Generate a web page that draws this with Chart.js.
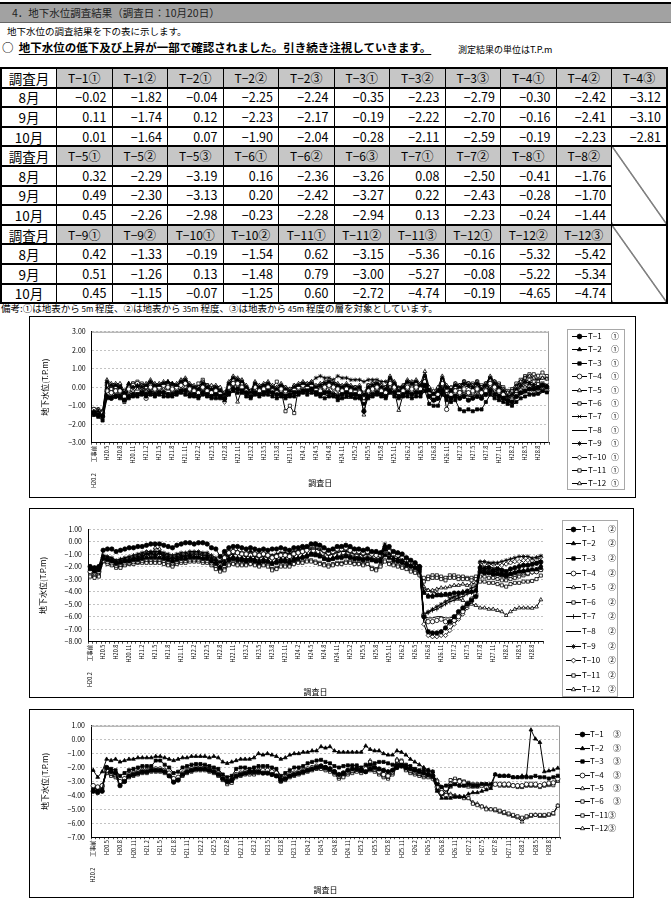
<!DOCTYPE html>
<html lang="ja">
<head>
<meta charset="UTF-8">
<title>地下水位調査結果</title>
<script src="https://cdn.jsdelivr.net/npm/chart.js@4.4.0/dist/chart.umd.min.js"></script>
<style>
    * { margin: 0; padding: 0; box-sizing: border-box; }
    body { width: 671px; height: 905px; overflow: hidden; background: #fff; color: #000;
        font-family: "Noto Sans CJK JP", sans-serif; position: relative; }
    #bar { position: absolute; left: 0; top: 2px; width: 671px; height: 21px; background: #a2a2a2;
        border-top: 2px solid #000; border-bottom: 1px solid #666; font-size: 10.5px; line-height: 18px;
        padding-left: 12px; color: #222; }
    #lead { position: absolute; left: 7px; top: 24px; font-size: 9.5px; }
    #note { position: absolute; left: 2px; top: 39px; font-size: 11.5px; font-weight: bold; }
    #note u { text-underline-offset: 2px; }
    #unit { position: absolute; left: 458px; top: 43px; font-size: 9px; }
    #tbl { position: absolute; left: 0; top: 67px; width: 668px; border-collapse: collapse; table-layout: fixed;
        border: 2px solid #000; }
    #tbl td { border-top: 2px solid #000; border-bottom: 2px solid #000; border-left: 1px solid #000;
        border-right: 1px solid #000; height: 19.6px; font-size: 12.5px; text-align: right; padding: 0 5px 0 0;
        line-height: 14px; }
    #tbl td.m { text-align: center; padding: 0; font-size: 13.5px; }
    #tbl td.h { text-align: center; padding: 0; background: #c6c6c6; font-size: 12px; }
    #tbl td.x { background: linear-gradient(to top right, transparent calc(50% - 0.8px), #000 50%, transparent calc(50% + 0.8px)); }
    #remark { position: absolute; left: 1px; top: 301px; font-size: 9.5px; }
    #remark small { font-size: 8px; }
    .box { position: absolute; border: 1px solid #000; background: #fff; }
    .box canvas { position: absolute; left: 0; top: 0; }
    .legend { position: absolute; font-size: 8px; }
    .legend.framed { border: 1px solid #a8a8a8; }
    .item { position: absolute; left: 0; height: 10px; line-height: 10px; white-space: nowrap; }
    .item canvas { position: absolute; top: 1px; }
    .item span { position: absolute; top: 0; }
</style>
</head>
<body>
<div id="bar">4．地下水位調査結果（調査日：10月20日）</div>
<div id="lead">地下水位の調査結果を下の表に示します。</div>
<div id="note">○&nbsp;&nbsp;<u>地下水位の低下及び上昇が一部で確認されました。引き続き注視していきます。</u></div>
<div id="unit">測定結果の単位はT.P.m</div>
<table id="tbl"></table>
<div id="remark">備考:①は地表から<small> 5m </small>程度、②は地表から<small> 35m </small>程度、③は地表から<small> 45m </small>程度の層を対象としています。</div>

<div class="box" id="box1" style="left:29px;top:316px;width:607px;height:182px">
    <canvas id="c1" width="605" height="180"></canvas>
    <div class="legend framed" id="lg1" style="left:537px;top:12px;width:58px;height:161px"></div>
</div>
<div class="box" id="box2" style="left:29px;top:508px;width:605px;height:190px">
    <canvas id="c2" width="603" height="188"></canvas>
    <div class="legend framed" id="lg2" style="left:532px;top:11px;width:56px;height:177px"></div>
</div>
<div class="box" id="box3" style="left:29px;top:709px;width:605px;height:189px">
    <canvas id="c3" width="603" height="187"></canvas>
    <div class="legend" id="lg3" style="left:543px;top:18px;width:58px;height:112px"></div>
</div>

<script>
    // 調査月 (H20.2 工事前 ～ H28.10)
    const months = ['H20.2　　工事前', 'H20.3', 'H20.4', 'H20.5', 'H20.6', 'H20.7', 'H20.8', 'H20.9', 'H20.10', 'H20.11', 'H20.12',
        'H21.1', 'H21.2', 'H21.3', 'H21.4', 'H21.5', 'H21.6', 'H21.7', 'H21.8', 'H21.9', 'H21.10', 'H21.11', 'H21.12',
        'H22.1', 'H22.2', 'H22.3', 'H22.4', 'H22.5', 'H22.6', 'H22.7', 'H22.8', 'H22.9', 'H22.10', 'H22.11', 'H22.12',
        'H23.1', 'H23.2', 'H23.3', 'H23.4', 'H23.5', 'H23.6', 'H23.7', 'H23.8', 'H23.9', 'H23.10', 'H23.11', 'H23.12',
        'H24.1', 'H24.2', 'H24.3', 'H24.4', 'H24.5', 'H24.6', 'H24.7', 'H24.8', 'H24.9', 'H24.10', 'H24.11', 'H24.12',
        'H25.1', 'H25.2', 'H25.3', 'H25.4', 'H25.5', 'H25.6', 'H25.7', 'H25.8', 'H25.9', 'H25.10', 'H25.11', 'H25.12',
        'H26.1', 'H26.2', 'H26.3', 'H26.4', 'H26.5', 'H26.6', 'H26.7', 'H26.8', 'H26.9', 'H26.10', 'H26.11', 'H26.12',
        'H27.1', 'H27.2', 'H27.3', 'H27.4', 'H27.5', 'H27.6', 'H27.7', 'H27.8', 'H27.9', 'H27.10', 'H27.11', 'H27.12',
        'H28.1', 'H28.2', 'H28.3', 'H28.4', 'H28.5', 'H28.6', 'H28.7', 'H28.8', 'H28.9', 'H28.10']

    // 表
    const head1 = ['T−1①', 'T−1②', 'T−2①', 'T−2②', 'T−2③', 'T−3①', 'T−3②', 'T−3③', 'T−4①', 'T−4②', 'T−4③']
    const aug1 = [-0.02, -1.82, -0.04, -2.25, -2.24, -0.35, -2.23, -2.79, -0.30, -2.42, -3.12]
    const sep1 = [0.11, -1.74, 0.12, -2.23, -2.17, -0.19, -2.22, -2.70, -0.16, -2.41, -3.10]
    const oct1 = [0.01, -1.64, 0.07, -1.90, -2.04, -0.28, -2.11, -2.59, -0.19, -2.23, -2.81]
    const head2 = ['T−5①', 'T−5②', 'T−5③', 'T−6①', 'T−6②', 'T−6③', 'T−7①', 'T−7②', 'T−8①', 'T−8②']
    const aug2 = [0.32, -2.29, -3.19, 0.16, -2.36, -3.26, 0.08, -2.50, -0.41, -1.76]
    const sep2 = [0.49, -2.30, -3.13, 0.20, -2.42, -3.27, 0.22, -2.43, -0.28, -1.70]
    const oct2 = [0.45, -2.26, -2.98, -0.23, -2.28, -2.94, 0.13, -2.23, -0.24, -1.44]
    const head3 = ['T−9①', 'T−9②', 'T−10①', 'T−10②', 'T−11①', 'T−11②', 'T−11③', 'T−12①', 'T−12②', 'T−12③']
    const aug3 = [0.42, -1.33, -0.19, -1.54, 0.62, -3.15, -5.36, -0.16, -5.32, -5.42]
    const sep3 = [0.51, -1.26, 0.13, -1.48, 0.79, -3.00, -5.27, -0.08, -5.22, -5.34]
    const oct3 = [0.45, -1.15, -0.07, -1.25, 0.60, -2.72, -4.74, -0.19, -4.65, -4.74]

    // グラフ1 (①)
    const a1_T1 = [-1.4, -1.5, -1.6, -0.5, -0.6, -0.5, -0.5, -0.7, -0.5, -0.4, -0.4, -0.3, -0.4, -0.3, -0.4,
        -0.3, -0.3, -0.4, -0.4, -0.3, -0.2, -0.2, -0.4, -0.4, -0.5, -0.3, -0.4, -0.5, -0.4, -0.5,
        -0.6, -0.3, -0.1, -0.1, -0.2, -0.3, -0.5, -0.3, -0.4, -0.3, -0.2, -0.3, -0.4, -0.4, -0.5,
        -0.4, -0.3, -0.3, -0.2, -0.2, -0.1, -0.3, -0.4, -0.3, -0.3, -0.4, -0.5, -0.4, -0.3, -0.4,
        -0.4, -0.5, -1.3, -0.5, -0.4, -0.3, -0.4, -0.5, -0.2, -0.3, -0.5, -0.4, -0.3, -0.4, -0.3,
        -0.3, 0.1, -0.5, -0.7, -0.6, -0.2, -0.5, -0.6, -0.5, -0.6, -0.5, -0.7, -0.6, -0.5, -0.6,
        -0.4, -0.2, -0.4, -0.5, -0.6, -0.7, -0.8, -0.5, -0.3, -0.2, -0.1, -0.1, -0.02, 0.11, 0.01]
    const a1_T2 = [-1.3, -1.3, -1.5, 0.3, 0.1, 0.1, 0.0, -0.3, 0.2, 0.0, 0.1, 0.0, 0.1, 0.3, 0.1,
        0.1, 0.2, 0.3, 0.2, 0.1, 0.3, 0.4, 0.1, 0.0, -0.1, 0.2, 0.0, -0.1, 0.0, -0.2,
        -0.4, 0.2, 0.5, 0.4, 0.3, 0.0, -0.3, 0.2, 0.0, 0.1, 0.2, 0.0, -0.1, 0.1, -0.1,
        -0.2, 0.0, 0.1, 0.2, 0.1, 0.2, 0.0, 0.1, 0.2, 0.3, 0.2, 0.1, 0.0, 0.1, 0.0,
        -0.1, 0.0, -0.4, 0.0, 0.1, 0.2, 0.0, -0.1, 0.5, 0.2, -0.2, 0.0, 0.3, 0.2, 0.3,
        0.1, 0.6, -0.2, -0.4, -0.2, 0.5, 0.0, -0.2, 0.1, 0.0, 0.2, 0.1, 0.0, 0.2, -0.1,
        0.1, 0.5, 0.2, 0.0, -0.2, -0.5, -0.4, -0.1, 0.1, 0.3, 0.2, 0.1, -0.04, 0.12, 0.07]
    const a1_T3 = [-1.5, -1.6, -1.8, -0.6, -0.6, -0.5, -0.6, -0.7, -0.6, -0.5, -0.5, -0.4, -0.5, -0.4, -0.5,
        -0.4, -0.5, -0.5, -0.5, -0.4, -0.3, -0.4, -0.5, -0.5, -0.6, -0.4, -0.5, -0.6, -0.6, -0.6,
        -0.7, -0.4, -0.2, -0.3, -0.3, -0.5, -0.6, -0.4, -0.5, -0.4, -0.4, -0.5, -0.6, -0.5, -0.6,
        -0.5, -0.5, -0.4, -0.3, -0.4, -0.3, -0.4, -0.5, -0.6, -0.5, -0.5, -0.7, -0.6, -0.5, -0.5,
        -0.6, -0.6, -0.9, -0.6, -0.5, -0.4, -0.5, -0.6, -0.3, -0.5, -0.6, -0.5, -0.5, -0.6, -0.5,
        -0.5, -0.2, -0.9, -1.0, -1.0, -0.4, -0.7, -0.8, -0.7, -1.2, -1.3, -1.2, -1.3, -1.2, -1.2,
        -0.8, -0.4, -0.6, -0.7, -0.8, -0.9, -1.0, -0.8, -0.6, -0.5, -0.4, -0.4, -0.35, -0.19, -0.28]
    const a1_T4 = [-1.2, -1.3, -1.4, -0.2, -0.3, -0.2, -0.2, -0.5, -0.1, 0.1, 0.2, 0.0, -0.6, 0.0, -0.1,
        0.0, 0.1, 0.0, -0.1, 0.0, 0.1, 0.2, -0.1, -0.2, -0.3, 0.0, -0.2, -0.3, -0.2, -0.3,
        -0.5, 0.0, 0.2, 0.2, 0.0, -0.2, -0.4, 0.0, -0.2, -0.1, 0.0, -0.2, -0.3, -0.1, -0.2,
        -0.3, -0.1, 0.0, 0.1, 0.0, 0.1, -0.1, -0.2, 0.0, 0.1, 0.0, -0.1, -0.2, -0.1, -0.2,
        -0.2, -0.3, -0.8, -0.2, -0.1, 0.0, -0.2, -0.3, 0.2, 0.0, -0.3, -0.2, 0.0, -0.1, 0.0,
        -0.1, 0.3, -0.3, -0.5, -0.4, 0.2, -1.2, -0.4, -0.2, -0.3, -0.1, -0.3, -0.2, -0.1, -0.3,
        -0.2, 0.2, 0.0, -0.2, -0.4, -0.6, -0.7, -0.4, -0.2, -0.1, 0.0, -0.2, -0.30, -0.16, -0.19]
    const a1_T5 = [-1.2, -1.2, -1.3, 0.4, 0.2, 0.2, 0.2, -0.2, 0.2, 0.1, 0.2, 0.1, 0.2, 0.4, 0.2,
        0.2, 0.3, 0.3, 0.2, 0.2, 0.4, 0.5, 0.2, 0.1, 0.0, 0.3, 0.1, 0.1, 0.1, 0.0,
        -0.3, 0.3, 0.6, 0.5, 0.4, 0.1, -0.2, 0.3, 0.1, 0.2, 0.3, 0.1, 0.0, 0.2, 0.0,
        -0.1, 0.1, 0.2, 0.3, 0.2, 0.3, 0.1, 0.2, 0.3, 0.4, 0.3, 0.2, 0.1, 0.2, 0.1,
        0.0, 0.1, -1.5, 0.1, 0.2, 0.3, 0.1, 0.0, 0.6, 0.3, -0.1, 0.1, 0.4, 0.3, 0.4,
        0.2, 0.85, 0.0, -0.2, 0.0, 0.6, 0.1, 0.0, 0.2, 0.1, 0.3, 0.2, 0.1, 0.3, 0.0,
        0.2, 0.6, 0.3, 0.1, -0.1, -0.3, -0.2, 0.0, 0.3, 0.5, 0.6, 0.5, 0.32, 0.49, 0.45]
    const a1_T6 = [-1.3, -1.4, -1.5, 0.1, -0.1, 0.0, 0.0, -0.8, 0.0, 0.2, 0.2, 0.1, 0.0, 0.1, 0.0,
        0.1, 0.2, 0.1, 0.0, 0.1, 0.2, 0.3, 0.0, -0.1, 0.2, 0.4, 0.1, 0.0, -0.1, -0.2,
        -0.6, 0.1, 0.4, 0.3, 0.2, -0.1, -0.3, 0.1, -0.1, 0.0, 0.1, -0.1, -0.2, 0.0, -0.1,
        -0.2, 0.0, 0.1, 0.2, 0.1, 0.2, 0.0, -0.1, 0.1, 0.2, 0.1, 0.0, -0.1, 0.0, -0.1,
        -0.1, -0.2, -0.6, -0.1, 0.0, 0.1, -0.1, -0.2, 0.3, 0.1, -0.2, -0.1, 0.1, 0.0, 0.2,
        0.0, 0.5, -0.3, -0.5, -0.3, 0.4, -0.2, -0.3, 0.0, -0.1, 0.3, 0.2, 0.1, 0.3, 0.0,
        0.1, 0.4, 0.1, -0.1, -0.3, -0.5, -0.4, -0.2, 0.1, 0.3, 0.4, 0.3, 0.16, 0.20, -0.23]
    const a1_T7 = [-1.3, -1.3, -1.4, 0.0, -0.2, -0.1, -0.1, -0.4, -0.1, 0.0, 0.0, -0.1, -0.1, 0.1, 0.0,
        0.0, 0.1, 0.1, 0.0, 0.0, 0.1, 0.2, -0.1, -0.2, -0.2, 0.1, -0.1, -0.2, -0.2, -0.3,
        -0.5, 0.0, 0.3, 0.2, 0.1, -0.1, -0.3, 0.1, -0.1, 0.0, 0.1, -0.1, -0.2, 0.0, -0.1,
        -0.2, 0.0, 0.0, 0.1, 0.0, 0.1, -0.1, -0.1, 0.0, 0.1, 0.1, 0.0, -0.1, 0.0, -0.1,
        -0.1, -0.2, -0.5, -0.1, 0.0, 0.1, -0.1, -0.2, 0.2, 0.0, -0.2, -0.1, 0.1, 0.0, 0.1,
        0.0, 0.4, -0.2, -0.4, -0.3, 0.3, -0.2, -0.3, 0.0, -0.1, 0.1, 0.0, -0.1, 0.1, -0.1,
        0.0, 0.3, 0.1, -0.1, -0.3, -0.5, -0.5, -0.2, 0.0, 0.2, 0.3, 0.2, 0.08, 0.22, 0.13]
    const a1_T8 = [-1.5, -1.5, -1.6, -0.5, -0.5, -0.4, -0.4, -0.6, -0.4, -0.3, -0.3, -0.3, -0.3, -0.2, -0.3,
        -0.3, -0.2, -0.3, -0.3, -0.3, -0.2, -0.1, -0.3, -0.3, -0.4, -0.2, -0.3, -0.4, -0.4, -0.4,
        -0.6, -0.3, -0.1, -0.1, -0.2, -0.3, -0.5, -0.3, -0.4, -0.3, -0.3, -0.3, -0.4, -0.4, -0.4,
        -0.4, -0.3, -0.3, -0.2, -0.3, -0.2, -0.3, -0.4, -0.4, -0.5, -0.5, -0.6, -0.6, -0.6, -0.6,
        -0.6, -0.6, -0.8, -0.5, -0.4, -0.3, -0.4, -0.5, -0.2, -0.3, -0.5, -0.4, -0.3, -0.4, -0.3,
        -0.4, 0.0, -0.6, -0.8, -0.7, -0.1, -0.5, -0.6, -0.4, -0.5, -0.4, -0.5, -0.5, -0.3, -0.5,
        -0.3, 0.0, -0.3, -0.4, -0.6, -0.8, -0.8, -0.6, -0.4, -0.3, -0.3, -0.4, -0.41, -0.28, -0.24]
    const a1_T9 = [-1.3, -1.4, -1.4, 0.1, -0.1, 0.0, 0.0, -0.3, 0.0, 0.1, 0.1, 0.0, 0.0, 0.2, 0.0,
        0.1, 0.1, 0.2, 0.1, 0.0, 0.2, 0.3, 0.0, -0.1, -0.1, 0.1, 0.0, -0.1, -0.1, -0.2,
        -0.4, 0.1, 0.4, 0.3, 0.2, 0.0, -0.2, 0.1, 0.0, 0.1, 0.1, 0.0, -0.1, 0.1, 0.0,
        -0.1, 0.1, 0.1, 0.2, 0.2, 0.3, 0.5, 0.6, 0.5, 0.5, 0.4, 0.6, 0.5, 0.5, 0.4,
        0.4, 0.4, 0.3, 0.4, 0.4, 0.4, 0.3, 0.3, 0.5, 0.2, 0.0, 0.1, 0.3, 0.2, 0.3,
        0.1, 0.5, -0.1, -0.3, -0.2, 0.4, 0.0, -0.1, 0.1, 0.1, 0.3, 0.2, 0.1, 0.2, 0.0,
        0.2, 0.5, 0.3, 0.1, -0.1, -0.3, -0.2, 0.1, 0.3, 0.5, 0.6, 0.5, 0.42, 0.51, 0.45]
    const a1_T10 = [-1.2, -1.3, -1.4, -0.1, -0.3, -0.2, -0.2, -0.4, -0.2, 0.1, 0.2, 0.0, -0.1, 0.0, -0.1,
        -0.1, 0.0, 0.0, -0.1, -0.1, 0.1, 0.2, -0.1, -0.2, -0.2, 0.0, -0.2, -0.3, -0.3, -0.3,
        -0.8, 0.0, 0.2, 0.1, 0.0, -0.2, -0.4, 0.0, -0.2, -0.1, 0.0, -0.2, -0.3, -0.2, -0.3,
        -0.3, -0.2, -0.1, 0.0, -0.1, 0.0, -0.2, -0.2, -0.1, 0.0, -0.1, -0.2, -0.2, -0.2, -0.3,
        -0.3, -0.3, -0.7, -0.3, -0.2, -0.1, -0.2, -0.3, 0.1, -0.1, -0.3, -0.2, -0.1, -0.2, -0.1,
        -0.2, 0.2, -0.4, -0.6, -0.5, 0.1, -0.4, -0.5, -0.3, -0.4, -0.2, -0.3, -0.3, -0.1, -0.3,
        -0.2, 0.1, -0.1, -0.3, -0.5, -0.7, -0.6, -0.4, -0.2, 0.0, 0.1, 0.0, -0.19, 0.13, -0.07]
    const a1_T11 = [-1.2, -1.2, -1.3, 0.2, 0.0, 0.1, 0.1, -0.3, 0.1, 0.2, 0.3, 0.2, 0.1, 0.2, 0.1,
        0.1, 0.2, 0.2, 0.1, 0.1, 0.3, 0.4, 0.1, 0.0, 0.0, 0.3, 0.1, 0.0, 0.0, -0.1,
        -0.4, 0.2, 0.5, 0.4, 0.3, 0.0, -0.2, 0.2, 0.0, 0.1, 0.2, 0.0, 0.3, -0.2, -1.3,
        -1.0, -1.4, 0.0, 0.1, 0.1, 0.2, 0.0, 0.1, 0.2, 0.3, 0.2, 0.1, 0.0, 0.1, 0.0,
        0.0, 0.0, -0.3, 0.1, 0.2, 0.2, 0.1, 0.0, 0.4, 0.2, -0.1, 0.0, 0.3, 0.2, 0.3,
        0.1, 0.6, -0.1, -0.3, -0.1, 0.4, 0.0, -0.1, 0.2, 0.1, 0.3, 0.2, 0.2, 0.3, 0.1,
        0.2, 0.5, 0.3, 0.2, 0.0, -0.2, -0.1, 0.2, 0.4, 0.6, 0.7, 0.7, 0.62, 0.79, 0.60]
    const a1_T12 = [-1.3, -1.4, -1.5, -0.2, -0.4, -0.3, -0.3, -0.5, -0.3, -0.2, -0.1, -0.2, -0.2, -0.1, -0.2,
        -0.2, -0.1, -0.1, -0.2, -0.2, -0.1, 0.0, -0.2, -0.3, -0.3, -0.1, -0.3, -0.3, -0.4, -0.4,
        -0.6, -0.2, 0.1, -0.8, -0.1, -0.3, -0.4, -0.2, -0.3, -0.2, -0.2, -0.3, -0.4, -0.3, -0.4,
        -0.4, -0.3, -0.2, -0.1, -0.2, -0.1, -0.3, -0.3, -0.2, -0.2, -0.3, -0.4, -0.3, -0.3, -0.4,
        -0.4, -0.4, -0.8, -0.4, -0.3, -0.2, -0.3, -0.4, 0.0, -0.2, -1.25, -0.4, -0.2, -0.3, -0.2,
        -0.3, 0.1, -0.5, -0.7, -0.6, 0.0, -0.5, -0.6, -0.4, -0.5, -0.3, -0.4, -0.4, -0.2, -0.4,
        -0.3, 0.0, -0.2, -0.4, -0.6, -0.8, -0.7, -0.5, -0.3, -0.2, -0.1, -0.1, -0.16, -0.08, -0.19]

    // グラフ2 (②)
    const a2_T1 = [-2.0, -2.1, -2.0, -0.7, -0.6, -0.6, -0.8, -0.7, -0.6, -0.5, -0.5, -0.4, -0.4, -0.3, -0.2,
        -0.2, -0.2, -0.3, -0.4, -0.5, -0.3, -0.2, -0.1, -0.1, -0.2, -0.1, -0.1, -0.2, -0.5, -0.6,
        -1.2, -0.8, -0.5, -0.4, -0.4, -0.5, -0.6, -0.5, -0.6, -0.7, -0.6, -0.7, -0.6, -0.6, -0.5,
        -0.6, -0.7, -0.5, -0.5, -0.4, -0.4, -0.2, -0.2, -0.3, -0.5, -0.7, -0.6, -0.4, -0.4, -0.3,
        -0.4, -0.6, -0.6, -0.7, -0.6, -0.8, -0.8, -0.9, -0.6, -0.4, -0.8, -0.9, -1.0, -1.3, -1.5,
        -1.7, -2.0, -6.0, -7.2, -7.3, -7.3, -7.2, -6.9, -6.4, -6.0, -5.6, -5.3, -5.0, -4.7, -4.4,
        -2.1, -2.2, -2.1, -2.3, -2.2, -2.3, -2.4, -2.2, -2.1, -2.0, -1.9, -1.9, -1.82, -1.74, -1.64]
    const a2_T2 = [-2.1, -2.3, -2.2, -1.3, -1.4, -1.5, -1.7, -1.6, -1.5, -1.5, -1.4, -1.3, -1.2, -1.0, -0.9,
        -1.1, -0.9, -1.2, -1.3, -1.4, -1.3, -1.2, -1.2, -1.1, -1.2, -1.2, -1.3, -1.2, -1.4, -1.6,
        -2.0, -1.6, -1.3, -1.2, -1.3, -1.3, -1.4, -1.3, -1.4, -1.5, -1.4, -1.5, -1.7, -1.5, -1.4,
        -1.4, -1.5, -1.3, -1.3, -1.2, -1.1, -1.0, -1.0, -1.1, -1.3, -1.4, -1.3, -1.2, -1.2, -1.1,
        -1.2, -1.3, -1.3, -1.4, -1.3, -1.4, -1.5, -1.4, -0.3, -1.0, -1.3, -1.4, -1.5, -1.7, -1.9,
        -2.0, -2.2, -4.0, -4.3, -4.3, -4.3, -4.3, -4.2, -4.2, -4.1, -4.1, -4.0, -4.0, -4.0, -3.9,
        -2.4, -2.5, -2.5, -2.6, -2.6, -2.7, -2.8, -2.6, -2.5, -2.4, -2.3, -2.3, -2.25, -2.23, -1.90]
    const a2_T3 = [-2.2, -2.4, -2.3, -1.4, -1.5, -1.6, -1.8, -1.7, -1.6, -1.6, -1.5, -1.5, -1.4, -1.3, -1.3,
        -1.3, -1.3, -1.4, -1.5, -1.6, -1.5, -1.4, -1.4, -1.3, -1.3, -1.3, -1.4, -1.4, -1.6, -1.8,
        -2.1, -1.8, -1.5, -1.4, -1.5, -1.5, -1.6, -1.5, -1.6, -1.7, -1.6, -1.6, -1.8, -1.7, -1.6,
        -1.6, -1.7, -1.5, -1.4, -1.3, -1.2, -1.0, -1.1, -1.2, -1.4, -1.5, -1.4, -1.3, -1.3, -1.2,
        -1.3, -1.4, -1.4, -1.5, -1.4, -1.5, -1.6, -1.6, -1.1, -1.3, -1.5, -1.6, -1.7, -1.9, -2.0,
        -2.1, -2.3, -4.1, -4.4, -4.4, -4.3, -4.3, -4.2, -4.2, -4.1, -4.1, -4.1, -4.0, -4.0, -3.9,
        -2.4, -2.5, -2.5, -2.6, -2.6, -2.6, -2.7, -2.6, -2.5, -2.4, -2.4, -2.3, -2.23, -2.22, -2.11]
    const a2_T4 = [-2.4, -2.5, -2.4, -1.5, -1.6, -1.7, -1.9, -1.8, -1.7, -1.7, -1.6, -1.6, -1.5, -1.4, -1.4,
        -1.4, -1.4, -1.5, -1.6, -1.7, -1.6, -1.5, -1.5, -1.4, -1.4, -1.4, -1.5, -1.5, -1.7, -1.9,
        -1.9, -1.3, -0.9, -0.8, -0.9, -1.0, -1.0, -1.1, -1.0, -1.1, -1.0, -1.1, -1.3, -1.2, -1.1,
        -1.1, -1.2, -1.0, -0.9, -0.8, -0.7, -0.3, -0.2, -0.4, -0.7, -0.9, -0.8, -0.6, -0.6, -0.5,
        -0.7, -0.8, -0.8, -0.9, -0.8, -1.0, -1.1, -1.1, -0.6, -0.8, -1.0, -1.1, -1.3, -1.5, -1.7,
        -1.9, -2.1, -5.9, -6.4, -6.4, -6.3, -6.2, -6.4, -6.5, -6.3, -6.0, -5.6, -5.1, -4.6, -4.2,
        -2.4, -2.5, -2.5, -2.6, -2.7, -2.7, -2.8, -2.7, -2.6, -2.5, -2.5, -2.5, -2.42, -2.41, -2.23]
    const a2_T5 = [-2.3, -2.5, -2.4, -1.4, -1.5, -1.6, -1.8, -1.8, -1.6, -1.6, -1.5, -1.5, -1.3, -0.9, -1.2,
        -0.5, -0.6, -1.3, -1.5, -1.6, -1.5, -1.4, -1.4, -1.3, -1.3, -1.3, -1.4, -1.4, -1.6, -1.8,
        -2.0, -1.7, -1.4, -1.3, -1.4, -1.4, -1.5, -1.4, -1.5, -1.6, -1.5, -1.6, -1.7, -1.6, -1.5,
        -1.5, -1.6, -1.4, -1.3, -1.2, -1.1, -0.9, -0.9, -1.0, -1.2, -1.4, -1.3, -1.2, -1.1, -1.0,
        -1.1, -1.2, -1.2, -1.3, -1.2, -1.3, -1.4, -1.3, -0.8, -1.1, -1.3, -1.4, -1.6, -1.8, -1.9,
        -2.1, -2.3, -3.6, -3.9, -3.9, -3.8, -3.7, -3.7, -3.6, -3.5, -3.5, -3.4, -3.5, -3.4, -3.3,
        -2.3, -2.4, -2.4, -2.5, -2.5, -2.6, -2.7, -2.6, -2.5, -2.4, -2.4, -2.3, -2.29, -2.30, -2.26]
    const a2_T6 = [-2.8, -2.9, -2.8, -1.6, -1.8, -1.9, -2.1, -2.1, -1.9, -1.8, -1.8, -1.7, -1.7, -1.7, -1.7,
        -1.7, -1.7, -1.8, -1.9, -2.0, -1.8, -1.7, -1.7, -1.6, -1.6, -1.6, -1.7, -1.7, -1.9, -2.2,
        -2.4, -2.3, -1.9, -1.8, -1.9, -1.9, -1.9, -1.8, -1.9, -2.0, -1.9, -2.0, -2.3, -2.2, -2.0,
        -2.0, -2.0, -1.8, -1.7, -1.7, -1.6, -1.6, -1.7, -1.8, -1.9, -2.0, -1.9, -1.8, -1.8, -1.7,
        -1.7, -1.8, -1.8, -1.9, -1.8, -2.2, -2.3, -2.0, -1.6, -1.8, -1.9, -2.0, -2.1, -2.2, -2.4,
        -2.5, -2.7, -3.2, -3.0, -2.9, -2.9, -3.0, -3.1, -2.9, -2.9, -3.0, -3.0, -3.0, -3.1, -3.0,
        -2.8, -2.8, -2.9, -2.9, -3.0, -3.1, -3.1, -3.0, -2.9, -2.8, -2.7, -2.6, -2.36, -2.42, -2.28]
    const a2_T7 = [-2.1, -2.2, -2.1, -1.2, -1.3, -1.4, -1.6, -1.5, -1.4, -1.4, -1.3, -1.2, -1.1, -1.0, -1.0,
        -1.0, -1.0, -1.1, -1.2, -1.3, -1.2, -1.1, -1.1, -1.0, -1.0, -1.0, -1.1, -1.1, -1.3, -1.5,
        -1.8, -1.4, -1.1, -1.0, -1.0, -1.1, -1.2, -1.1, -1.2, -1.3, -1.2, -1.3, -1.4, -1.3, -1.2,
        -1.2, -1.3, -1.1, -1.0, -0.9, -0.8, -0.6, -0.6, -0.7, -0.9, -1.1, -1.0, -0.9, -0.8, -0.8,
        -0.9, -1.0, -1.0, -1.1, -1.0, -1.1, -1.2, -1.2, -0.5, -0.9, -1.1, -1.2, -1.4, -1.6, -1.8,
        -2.0, -2.2, -5.8, -5.7, -5.5, -5.4, -5.2, -5.0, -4.8, -4.7, -4.5, -4.4, -4.2, -4.1, -4.0,
        -2.2, -2.4, -2.3, -2.4, -2.4, -2.5, -2.6, -2.5, -2.4, -2.3, -2.3, -2.3, -2.50, -2.43, -2.23]
    const a2_T8 = [-2.0, -2.1, -2.0, -1.1, -1.2, -1.3, -1.5, -1.4, -1.3, -1.3, -1.2, -1.1, -1.0, -0.9, -0.9,
        -0.9, -0.9, -1.0, -1.1, -1.2, -1.1, -1.0, -1.0, -0.9, -0.9, -0.9, -1.0, -1.0, -1.2, -1.4,
        -1.7, -1.3, -1.0, -0.9, -0.9, -1.0, -1.1, -1.0, -1.1, -1.2, -1.1, -1.2, -1.3, -1.2, -1.1,
        -1.1, -1.2, -1.0, -0.9, -0.8, -0.7, -0.5, -0.5, -0.6, -0.8, -1.0, -0.9, -0.8, -0.7, -0.7,
        -0.8, -0.9, -0.9, -1.0, -0.9, -1.0, -1.1, -1.1, -0.5, -0.8, -1.0, -1.1, -1.3, -1.5, -1.7,
        -1.9, -2.1, -6.0, -6.1, -6.1, -6.0, -6.0, -6.1, -6.1, -6.0, -5.7, -5.3, -4.9, -4.5, -4.2,
        -1.9, -2.0, -2.0, -2.1, -2.1, -2.2, -2.3, -2.2, -2.1, -2.0, -1.9, -1.9, -1.76, -1.70, -1.44]
    const a2_T9 = [-2.0, -2.1, -2.0, -1.1, -1.2, -1.3, -1.5, -1.4, -1.3, -1.2, -1.1, -1.0, -0.9, -0.8, -0.8,
        -0.8, -0.8, -0.9, -1.0, -1.1, -1.0, -0.9, -0.9, -0.8, -0.8, -0.8, -0.9, -0.9, -1.1, -1.3,
        -1.6, -1.1, -0.8, -0.7, -0.8, -0.9, -0.9, -0.8, -0.9, -1.0, -0.9, -1.0, -1.1, -1.0, -0.9,
        -0.9, -1.0, -0.8, -0.7, -0.6, -0.5, -0.3, -0.3, -0.4, -0.6, -0.8, -0.7, -0.5, -0.4, -0.4,
        -0.5, -0.6, -0.7, -0.8, -0.7, -0.8, -0.9, -0.9, -0.2, -0.7, -0.9, -1.0, -1.2, -1.4, -1.6,
        -1.8, -2.0, -5.8, -5.6, -5.4, -5.2, -5.0, -4.8, -4.6, -4.4, -4.3, -4.1, -3.9, -3.7, -3.6,
        -1.6, -1.6, -1.7, -1.7, -1.7, -1.6, -1.5, -1.4, -1.3, -1.2, -1.2, -1.2, -1.33, -1.26, -1.15]
    const a2_T10 = [-2.2, -2.3, -2.2, -1.3, -1.4, -1.5, -1.7, -1.6, -1.5, -1.5, -1.4, -1.3, -1.2, -1.1, -1.1,
        -1.1, -1.1, -1.2, -1.3, -1.4, -1.3, -1.2, -1.2, -1.1, -1.1, -1.1, -1.2, -1.2, -1.4, -1.6,
        -1.8, -1.2, -0.9, -0.8, -0.8, -0.9, -1.0, -0.9, -1.0, -1.1, -1.0, -1.1, -1.2, -1.1, -1.0,
        -1.0, -1.1, -0.9, -0.8, -0.7, -0.6, -0.2, -0.2, -0.3, -0.6, -0.8, -0.7, -0.5, -0.5, -0.4,
        -0.6, -0.7, -0.7, -0.8, -0.7, -0.9, -1.0, -1.0, -0.4, -0.7, -0.9, -1.0, -1.2, -1.4, -1.6,
        -1.8, -2.0, -6.6, -7.5, -7.6, -7.6, -7.5, -7.5, -7.1, -6.6, -6.2, -5.8, -5.3, -4.8, -4.3,
        -1.7, -1.8, -1.8, -1.8, -1.9, -1.9, -1.8, -1.7, -1.6, -1.6, -1.5, -1.5, -1.54, -1.48, -1.25]
    const a2_T11 = [-2.7, -2.8, -2.7, -1.5, -1.7, -1.8, -2.0, -2.0, -1.8, -1.7, -1.7, -1.6, -1.6, -1.6, -1.6,
        -1.6, -1.6, -1.7, -1.8, -1.9, -1.7, -1.6, -1.6, -1.5, -1.5, -1.5, -1.6, -1.6, -1.8, -2.1,
        -2.3, -2.2, -1.8, -1.7, -1.8, -1.8, -1.8, -1.7, -1.8, -1.9, -1.8, -1.9, -2.2, -2.1, -1.9,
        -1.9, -1.9, -1.7, -1.6, -1.6, -1.5, -1.5, -1.6, -1.7, -1.8, -1.9, -1.8, -1.7, -1.7, -1.6,
        -1.6, -1.7, -1.7, -1.8, -1.7, -2.1, -2.2, -1.9, -1.5, -1.7, -1.8, -1.9, -2.0, -2.1, -2.3,
        -2.4, -2.6, -2.9, -2.8, -2.7, -2.7, -2.8, -2.9, -2.7, -2.7, -2.8, -2.8, -2.9, -2.9, -2.8,
        -3.2, -3.2, -3.3, -3.3, -3.4, -3.5, -3.6, -3.4, -3.3, -3.3, -3.2, -3.2, -3.15, -3.00, -2.72]
    const a2_T12 = [-2.4, -2.6, -2.5, -1.5, -1.6, -1.7, -1.9, -1.9, -1.7, -1.7, -1.6, -1.6, -1.5, -1.4, -1.4,
        -1.4, -1.4, -1.5, -1.6, -1.7, -1.6, -1.5, -1.5, -1.4, -1.4, -1.4, -1.5, -1.5, -1.7, -1.9,
        -2.1, -1.8, -1.5, -1.4, -1.5, -1.5, -1.6, -1.5, -1.6, -1.7, -1.6, -1.7, -1.8, -1.7, -1.6,
        -1.6, -1.7, -1.5, -1.4, -1.3, -1.2, -1.1, -1.1, -1.2, -1.4, -1.5, -1.4, -1.3, -1.3, -1.2,
        -1.3, -1.4, -1.4, -1.5, -1.4, -1.5, -1.6, -1.5, -1.0, -1.3, -1.5, -1.6, -1.7, -1.9, -2.0,
        -2.2, -2.4, -3.8, -3.9, -4.0, -4.1, -4.2, -4.3, -4.4, -4.5, -4.6, -4.7, -4.9, -5.0, -5.1,
        -5.3, -5.3, -5.4, -5.4, -5.5, -5.6, -5.9, -5.6, -5.4, -5.3, -5.3, -5.3, -5.32, -5.22, -4.65]

    // グラフ3 (③)
    const a3_T1 = [-3.7, -3.8, -3.7, -2.0, -2.3, -2.4, -3.3, -3.0, -2.6, -2.5, -2.4, -2.3, -2.3, -2.2, -2.2,
        -2.2, -2.3, -2.6, -3.05, -2.9, -2.5, -2.3, -2.2, -2.1, -2.1, -2.1, -2.2, -2.3, -2.5, -2.8,
        -3.0, -2.9, -2.6, -2.5, -2.4, -2.3, -2.3, -2.3, -2.4, -2.4, -2.5, -2.6, -2.9, -2.8, -2.6,
        -2.5, -2.4, -2.3, -2.2, -2.1, -2.0, -1.9, -2.0, -2.1, -2.3, -2.5, -2.4, -2.2, -2.1, -2.1,
        -2.2, -2.3, -2.1, -2.0, -2.1, -2.2, -2.3, -2.2, -2.0, -1.9, -2.0, -2.1, -2.2, -2.3, -2.4,
        -2.5, -2.6]
    const a3_T2 = [-2.2, -2.7, -2.3, -1.4, -1.5, -1.4, -1.6, -1.5, -1.4, -1.4, -1.3, -1.3, -1.3, -1.3, -1.2,
        -1.2, -1.3, -1.4, -1.5, -1.4, -1.3, -1.3, -1.2, -1.2, -1.2, -1.2, -1.3, -1.2, -1.3, -1.6,
        -1.7, -1.6, -1.5, -1.4, -1.4, -1.4, -1.3, -1.0, -1.1, -1.0, -1.1, -1.2, -1.4, -1.3, -1.1,
        -1.0, -1.0, -0.9, -0.9, -0.8, -0.8, -0.5, -0.6, -0.5, -0.8, -0.9, -0.9, -0.9, -0.9, -0.9,
        -0.9, -0.45, -0.7, -0.8, -0.8, -1.0, -1.1, -1.1, -0.8, -0.9, -1.1, -1.4, -1.6, -1.8, -2.0,
        -2.2, -2.3, -3.7, -4.2, -4.2, -4.2, -4.1, -4.1, -4.1, -3.9, -3.8, -3.8, -3.7, -3.6, -3.5,
        -2.5, -2.6, -2.6, -2.6, -2.7, -2.7, -2.6, -2.6, 0.7, 0.05, -0.2, -2.3, -2.24, -2.17, -2.04]
    const a3_T3 = [-3.6, -3.7, -3.6, -2.0, -2.1, -2.2, -2.6, -2.4, -2.2, -2.1, -2.0, -1.9, -1.9, -1.9, -1.5,
        -1.5, -1.8, -2.0, -2.4, -2.3, -2.0, -1.9, -1.8, -1.75, -1.75, -1.8, -1.9, -2.0, -2.1, -2.5,
        -2.7, -2.6, -2.1, -2.0, -2.0, -2.1, -2.0, -1.9, -1.9, -1.9, -2.0, -2.1, -2.6, -2.4, -2.2,
        -2.0, -2.0, -1.9, -1.7, -1.6, -1.5, -1.45, -1.6, -1.7, -1.9, -2.0, -1.9, -1.85, -1.85, -1.85,
        -2.0, -1.8, -1.8, -1.7, -1.6, -1.6, -1.7, -1.8, -1.8, -1.8, -1.8, -1.9, -2.1, -2.2, -2.2,
        -2.2, -2.3, -3.2, -3.4, -3.3, -3.3, -3.2, -3.3, -3.3, -3.2, -3.3, -3.3, -3.2, -3.2, -3.2,
        -2.5, -2.6, -2.6, -2.6, -2.7, -2.7, -2.7, -2.7, -2.7, -2.6, -2.7, -2.7, -2.79, -2.70, -2.59]
    const a3_T4 = [-3.3, -3.4, -3.3, -2.2, -2.4, -2.5, -3.0, -2.8, -2.5, -2.4, -2.3, -2.2, -2.2, -2.1, -2.1,
        -2.1, -2.2, -2.4, -2.8, -2.7, -2.4, -2.2, -2.1, -2.0, -2.0, -2.0, -2.1, -2.2, -2.4, -2.7,
        -3.0, -2.9, -2.5, -2.4, -2.3, -2.3, -2.3, -2.2, -2.2, -2.2, -2.3, -2.4, -2.9, -2.7, -2.5,
        -2.4, -2.3, -2.2, -2.1, -2.0, -1.9, -1.9, -2.0, -2.1, -2.3, -2.6, -2.4, -2.3, -2.2, -2.1,
        -2.2, -2.1, -2.0, -2.1, -2.3, -2.5, -2.6, -2.3, -1.8, -1.6, -2.0, -2.2, -2.3, -2.4, -2.5,
        -2.5, -2.6, -3.4, -3.8, -4.0, -3.2, -3.0, -3.0, -3.1, -3.2, -3.3, -3.3, -3.3, -3.4, -3.3,
        -3.2, -3.2, -3.2, -3.2, -3.3, -3.3, -3.3, -3.2, -3.2, -3.2, -3.3, -3.2, -3.12, -3.10, -2.81]
    const a3_T5 = [-3.4, -3.5, -3.4, -2.3, -2.5, -2.6, -3.1, -2.9, -2.6, -2.5, -2.4, -2.3, -2.3, -2.2, -2.2,
        -2.2, -2.3, -2.5, -2.9, -2.8, -2.5, -2.3, -2.2, -2.1, -2.1, -2.1, -2.2, -2.3, -2.5, -2.8,
        -3.1, -3.0, -2.6, -2.5, -2.4, -2.4, -2.4, -2.3, -2.3, -2.3, -2.4, -2.5, -3.0, -2.8, -2.6,
        -2.5, -2.4, -2.3, -2.2, -2.1, -2.0, -2.0, -2.1, -2.2, -2.4, -2.7, -2.5, -2.4, -2.3, -2.2,
        -2.3, -2.2, -2.1, -2.2, -2.4, -2.6, -2.7, -2.4, -1.9, -1.7, -2.1, -2.3, -2.4, -2.5, -2.6,
        -2.6, -2.7, -3.5, -3.9, -3.8, -3.4, -3.2, -3.3, -3.3, -3.4, -3.4, -3.4, -3.3, -3.3, -3.3,
        -3.2, -3.2, -3.3, -3.3, -3.3, -3.3, -3.4, -3.3, -3.3, -3.3, -3.3, -3.3, -3.19, -3.13, -2.98]
    const a3_T6 = [-3.5, -3.5, -3.4, -2.4, -2.6, -2.7, -3.2, -3.0, -2.7, -2.6, -2.5, -2.4, -2.4, -2.3, -2.3,
        -2.3, -2.4, -2.6, -3.0, -2.9, -2.6, -2.4, -2.3, -2.2, -2.2, -2.2, -2.3, -2.4, -2.6, -2.9,
        -3.2, -3.1, -2.7, -2.6, -2.5, -2.5, -2.5, -2.4, -2.4, -2.4, -2.5, -2.6, -3.0, -2.9, -2.7,
        -2.6, -2.5, -2.4, -2.3, -2.2, -2.1, -2.1, -2.2, -2.3, -2.5, -2.8, -2.7, -2.5, -2.4, -2.3,
        -2.4, -2.3, -2.2, -2.3, -2.5, -2.7, -2.8, -2.5, -2.0, -1.8, -2.2, -2.4, -2.5, -2.6, -2.7,
        -2.7, -2.8, -3.6, -3.9, -4.1, -2.9, -2.8, -2.9, -3.0, -3.1, -3.2, -3.2, -3.2, -3.2, -3.3,
        -3.2, -3.3, -3.3, -3.3, -3.3, -3.4, -3.4, -3.3, -3.3, -3.3, -3.4, -3.3, -3.26, -3.27, -2.94]
    const a3_T11 = [-3.4, -3.4, -3.3, -2.3, -2.5, -2.6, -3.1, -2.9, -2.6, -2.5, -2.4, -2.3, -2.3, -2.2, -2.2,
        -2.2, -2.3, -2.5, -2.9, -2.8, -2.5, -2.3, -2.2, -2.1, -2.1, -2.1, -2.2, -2.3, -2.5, -2.8,
        -3.1, -3.0, -2.6, -2.5, -2.4, -2.4, -2.4, -2.3, -2.3, -2.3, -2.4, -2.5, -3.0, -2.8, -2.6,
        -2.5, -2.4, -2.3, -2.2, -2.1, -2.0, -2.0, -2.1, -2.2, -2.4, -2.7, -2.6, -2.4, -2.3, -2.2,
        -2.3, -2.2, -1.6, -2.2, -2.4, -2.6, -2.7, -2.4, -1.5, -1.5, -2.1, -2.3, -2.4, -2.5, -2.6,
        -2.6, -2.7, -3.0, -3.6, -3.9, -4.0, -4.1, -4.1, -4.2, -4.2, -4.6, -4.7, -4.8, -5.0, -5.0,
        -5.0, -5.1, -5.2, -5.3, -5.4, -5.5, -5.6, -5.5, -5.4, -5.4, -5.4, -5.4, -5.36, -5.27, -4.74]
    const a3_T12 = [-3.3, -3.4, -3.3, -2.2, -2.4, -2.5, -3.0, -2.8, -2.5, -2.4, -2.3, -2.2, -2.2, -2.1, -2.1,
        -2.1, -2.2, -2.4, -2.8, -2.7, -2.4, -2.2, -2.1, -2.0, -2.0, -2.0, -2.1, -2.2, -2.4, -2.7,
        -3.0, -2.9, -2.5, -2.4, -2.3, -2.3, -2.3, -2.2, -2.2, -2.2, -2.3, -2.4, -2.9, -2.7, -2.5,
        -2.4, -2.3, -2.2, -2.1, -2.0, -1.9, -1.9, -2.0, -2.1, -2.3, -2.6, -2.5, -2.3, -2.2, -2.1,
        -2.2, -2.1, -1.5, -2.1, -2.3, -2.5, -2.6, -2.3, -1.4, -1.6, -2.0, -2.2, -2.3, -2.4, -2.5,
        -2.5, -2.6, -2.9, -3.4, -3.8, -3.9, -4.0, -4.1, -4.1, -4.2, -4.5, -4.6, -4.8, -4.9, -5.0,
        -5.1, -5.2, -5.3, -5.4, -5.5, -5.6, -5.9, -5.6, -5.5, -5.4, -5.5, -5.5, -5.42, -5.34, -4.74]

    const names1 = ['T−1', 'T−2', 'T−3', 'T−4', 'T−5', 'T−6', 'T−7', 'T−8', 'T−9', 'T−10', 'T−11', 'T−12']
    const names3 = ['T−1', 'T−2', 'T−3', 'T−4', 'T−5', 'T−6', 'T−11', 'T−12']
    const shapes1 = ['circle', 'triangle', 'rect', 'circle', 'triangle', 'rect', 'crossRot', 'line', 'star', 'rectRot', 'rect', 'triangle']
    const shapes2 = ['circle', 'triangle', 'rect', 'circle', 'triangle', 'rect', 'cross', 'line', 'star', 'rectRot', 'rect', 'triangle']
    const shapes3 = ['circle', 'triangle', 'rect', 'circle', 'triangle', 'rect', 'rect', 'triangle']
    const fills1 = [true, true, true, false, false, false, false, false, false, false, false, false]
    const fills3 = [true, true, true, false, false, false, false, false]

    function fmt(v) {
        return (v < 0 ? '−' : '') + Math.abs(v).toFixed(2)
    }

    // 表を組み立てる
    function block(head, rows, diag) {
        let html = '<tr><td class="m">調査月</td>'
        head.forEach(h => { html += '<td class="h">' + h + '</td>' })
        if (diag) html += '<td class="x" rowspan="4"></td>'
        html += '</tr>'
        const mon = ['8月', '9月', '10月']
        rows.forEach((r, i) => {
            html += '<tr><td class="m">' + mon[i] + '</td>'
            r.forEach(v => { html += '<td>' + fmt(v) + '</td>' })
            html += '</tr>'
        })
        return html
    }
    document.getElementById('tbl').innerHTML =
        block(head1, [aug1, sep1, oct1], false) +
        block(head2, [aug2, sep2, oct2], true) +
        block(head3, [aug3, sep3, oct3], true)

    Chart.defaults.font.family = '"Noto Sans CJK JP", sans-serif'

    const topRightFrame = {
        id: 'topRightFrame',
        beforeDatasetsDraw(c) {
            const a = c.chartArea, x = c.ctx
            x.save()
            x.strokeStyle = '#9a9a9a'
            x.lineWidth = 1
            x.beginPath()
            x.moveTo(a.left, a.top + 0.5)
            x.lineTo(a.right - 0.5, a.top + 0.5)
            x.lineTo(a.right - 0.5, a.bottom)
            x.stroke()
            x.restore()
        }
    }

    function makeChart(id, series, names, shapes, fills, yMin, yMax, g) {
        const datasets = series.map((d, i) => ({
            label: names[i],
            data: d,
            borderColor: '#000',
            borderWidth: 1,
            pointStyle: shapes[i],
            pointRadius: shapes[i] === 'line' ? 0 : 2.2,
            pointHoverRadius: 0,
            pointBackgroundColor: fills[i] ? '#000' : '#fff',
            pointBorderColor: '#000',
            pointBorderWidth: 0.8,
            tension: 0
        }))
        return new Chart(document.getElementById(id), {
            type: 'line',
            data: { labels: months, datasets: datasets },
            options: {
                responsive: false,
                animation: false,
                events: [],
                layout: { padding: { top: g.pt, right: g.pr, bottom: g.pb, left: 0 } },
                plugins: { legend: { display: false }, tooltip: { enabled: false } },
                scales: {
                    x: {
                        offset: true,
                        ticks: {
                            autoSkip: false, maxRotation: 90, minRotation: 90, padding: 1,
                            font: { size: 5.5 }, color: '#000',
                            callback: (v, i) => i % 3 === 0 ? months[i] : ''
                        },
                        grid: { offset: true, drawOnChartArea: false, drawTicks: true, tickLength: 2, color: '#000', lineWidth: 0.7 },
                        border: { display: true, color: '#000', width: 1 },
                        title: { display: true, text: '調査日', font: { size: 8 }, color: '#000', padding: { top: 0, bottom: g.xtb } },
                        afterFit: s => { s.height = g.xh }
                    },
                    y: {
                        min: yMin, max: yMax,
                        ticks: { stepSize: 1, font: { size: 7 }, color: '#000', padding: 6, callback: v => fmt(v) },
                        grid: { color: '#b4b4b4', lineWidth: 0.8, drawTicks: false },
                        border: { display: true, color: '#000', width: 1, dash: [2, 2] },
                        title: { display: true, text: '地下水位(T.P.m)', font: { size: 8 }, color: '#000', padding: { top: g.ytp, bottom: 0 } },
                        afterFit: s => { s.width = g.yw }
                    }
                }
            },
            plugins: g.frame ? [topRightFrame] : []
        })
    }

    function makeLegend(id, names, shapes, fills, digit, g) {
        const box = document.getElementById(id)
        names.forEach((n, i) => {
            const item = document.createElement('div')
            item.className = 'item'
            item.style.top = (g.first + i * g.step - 5) + 'px'
            const cv = document.createElement('canvas')
            cv.width = 15
            cv.height = 9
            cv.style.left = g.icon + 'px'
            const ctx = cv.getContext('2d')
            ctx.strokeStyle = '#000'
            ctx.lineWidth = 1
            ctx.beginPath()
            ctx.moveTo(0, 4.5)
            ctx.lineTo(15, 4.5)
            ctx.stroke()
            if (shapes[i] !== 'line' && Chart.helpers && Chart.helpers.drawPoint) {
                ctx.fillStyle = fills[i] ? '#000' : '#fff'
                ctx.lineWidth = 0.8
                Chart.helpers.drawPoint(ctx, { pointStyle: shapes[i], radius: 2.4, borderWidth: 0.8, rotation: 0 }, 7.5, 4.5)
            }
            item.appendChild(cv)
            const t = document.createElement('span')
            t.style.left = g.text + 'px'
            t.textContent = n
            item.appendChild(t)
            const d = document.createElement('span')
            d.style.left = (n.length > 3 && g.tight ? g.text + 18 : g.digit) + 'px'
            d.textContent = digit
            item.appendChild(d)
            box.appendChild(item)
        })
    }

    makeChart('c1', [a1_T1, a1_T2, a1_T3, a1_T4, a1_T5, a1_T6, a1_T7, a1_T8, a1_T9, a1_T10, a1_T11, a1_T12],
        names1.map(n => n + ' ①'), shapes1, fills1, -3, 3,
        { pt: 14.7, pr: 86, pb: 9.3, xh: 45, xtb: 0, yw: 61.7, ytp: 10, frame: true })
    makeChart('c2', [a2_T1, a2_T2, a2_T3, a2_T4, a2_T5, a2_T6, a2_T7, a2_T8, a2_T9, a2_T10, a2_T11, a2_T12],
        names1.map(n => n + ' ②'), shapes2, fills1, -8, 1,
        { pt: 20, pr: 90, pb: 0, xh: 55.3, xtb: 0, yw: 58, ytp: 8, frame: false })
    makeChart('c3', [a3_T1, a3_T2, a3_T3, a3_T4, a3_T5, a3_T6, a3_T11, a3_T12],
        names3.map(n => n + ' ③'), shapes3, fills3, -7, 1,
        { pt: 15.7, pr: 73, pb: 2.2, xh: 57.6, xtb: 0, yw: 61, ytp: 10, frame: true })

    makeLegend('lg1', names1, shapes1, fills1, '①', { first: 6, step: 13.4, icon: 4, text: 20, digit: 43, tight: false })
    makeLegend('lg2', names1, shapes2, fills1, '②', { first: 7.7, step: 14.6, icon: 3, text: 19, digit: 45, tight: false })
    makeLegend('lg3', names3, shapes3, fills3, '③', { first: 6.3, step: 13.4, icon: 2, text: 17, digit: 40, tight: true })
</script>
</body>
</html>
